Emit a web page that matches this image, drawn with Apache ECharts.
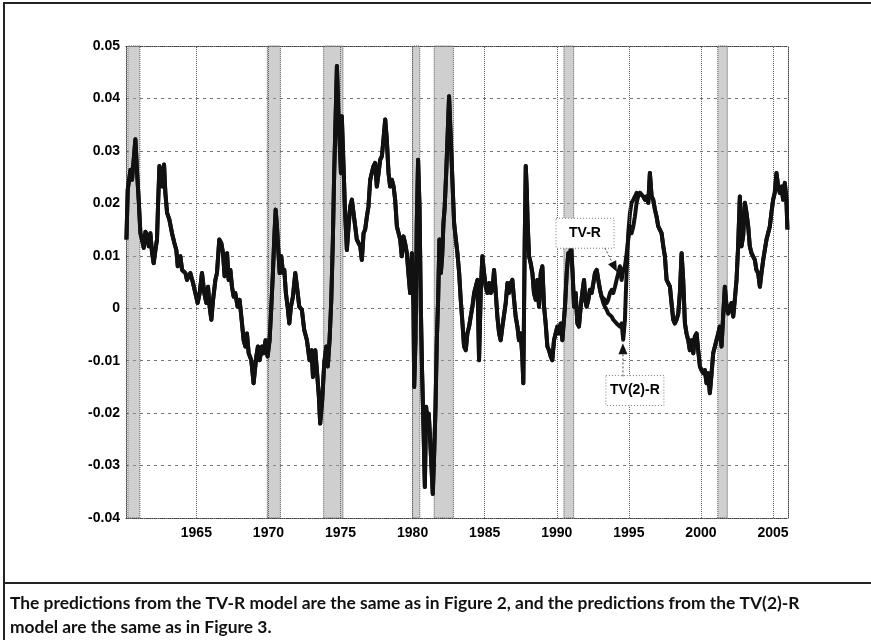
<!DOCTYPE html>
<html>
<head>
<meta charset="utf-8">
<script src="https://cdn.jsdelivr.net/npm/echarts@6/dist/echarts.min.js"></script>
<style>
  html, body { margin: 0; padding: 0; background: #fff; }
  #chart { width: 871px; height: 640px; }
</style>
</head>
<body>
<div id="chart"></div>
<script>
// Predicted values, [decimal year, value]; both models share the path except 1993-1995
const path1960s = [
  [1960.15,0.0131],[1960.24,0.0226],[1960.43,0.0264],[1960.54,0.0245],[1960.77,0.0322],[1960.89,0.0258],
  [1961.00,0.0207],[1961.12,0.0143],[1961.23,0.0131],[1961.35,0.0115],[1961.47,0.0146],[1961.58,0.0137],
  [1961.70,0.0118],[1961.81,0.0143],[1961.93,0.0105],[1962.04,0.0086],[1962.16,0.0111],[1962.27,0.0131],
  [1962.34,0.0194],[1962.44,0.0271],[1962.55,0.0274],[1962.64,0.0232],[1962.76,0.0274],[1962.85,0.0220],
  [1962.97,0.0182],[1963.13,0.0169],[1963.31,0.0143],[1963.48,0.0124],[1963.61,0.0111],[1963.71,0.0080],
  [1963.89,0.0099],[1964.01,0.0073],[1964.24,0.0067],[1964.35,0.0054],[1964.58,0.0067],[1964.77,0.0048],
  [1964.93,0.0029],[1965.09,0.0010],[1965.23,0.0029],[1965.39,0.0067],[1965.55,0.0029],[1965.69,0.0010],
  [1965.81,0.0041],[1965.92,0.0003],[1966.04,-0.0022],[1966.16,0.0016],[1966.32,0.0054],[1966.43,0.0067],
  [1966.59,0.0131],[1966.73,0.0124],[1966.85,0.0105],[1966.96,0.0061],[1967.13,0.0105],[1967.24,0.0054],
  [1967.36,0.0073],[1967.47,0.0041],[1967.59,0.0022],[1967.70,0.0029],[1967.86,0.0003],[1968.00,0.0016],
  [1968.12,-0.0016],[1968.28,-0.0061],[1968.40,-0.0073],[1968.51,-0.0048],[1968.63,-0.0086],[1968.81,-0.0099],
  [1968.97,-0.0143],[1969.16,-0.0092],[1969.27,-0.0073],[1969.39,-0.0099],[1969.55,-0.0073],[1969.67,-0.0086],
  [1969.80,-0.0061],[1969.94,-0.0092]
];
const path1970s = [
  [1970.08,-0.0061],[1970.20,0.0003],[1970.31,0.0067],[1970.41,0.0137],[1970.50,0.0188],[1970.59,0.0156],
  [1970.71,0.0099],[1970.78,0.0067],[1970.89,0.0099],[1971.01,0.0067],[1971.10,0.0073],[1971.21,0.0029],
  [1971.33,0.0003],[1971.45,-0.0029],[1971.56,0.0003],[1971.70,0.0022],[1971.86,0.0067],[1971.98,0.0041],
  [1972.14,0.0003],[1972.32,-0.0003],[1972.48,-0.0041],[1972.67,-0.0061],[1972.85,-0.0099],[1972.99,-0.0080],
  [1973.09,-0.0131],[1973.25,-0.0080],[1973.36,-0.0118],[1973.50,-0.0169],[1973.59,-0.0220],[1973.73,-0.0175],
  [1973.87,-0.0105],[1974.01,-0.0073],[1974.12,-0.0111],[1974.24,-0.0061],[1974.36,0.0016],[1974.47,0.0131],
  [1974.56,0.0258],[1974.68,0.0385],[1974.75,0.0462],[1974.86,0.0366],[1974.93,0.0322],[1975.03,0.0258],
  [1975.09,0.0366],[1975.21,0.0271],[1975.30,0.0194],[1975.44,0.0111],[1975.56,0.0156],[1975.67,0.0194],
  [1975.79,0.0207],[1975.90,0.0182],[1976.02,0.0156],[1976.13,0.0131],[1976.25,0.0131],[1976.37,0.0118],
  [1976.48,0.0092],[1976.60,0.0143],[1976.71,0.0150],[1976.83,0.0175],[1976.94,0.0194],[1977.06,0.0245],
  [1977.17,0.0258],[1977.29,0.0271],[1977.40,0.0277],[1977.52,0.0232],[1977.64,0.0258],[1977.75,0.0283],
  [1977.87,0.0290],[1977.98,0.0322],[1978.10,0.0360],[1978.21,0.0322],[1978.33,0.0258],[1978.44,0.0232],
  [1978.56,0.0245],[1978.68,0.0232],[1978.79,0.0207],[1978.91,0.0156],[1979.02,0.0156],[1979.14,0.0131],
  [1979.25,0.0099],[1979.37,0.0137],[1979.48,0.0124],[1979.60,0.0105],[1979.71,0.0067],[1979.83,0.0029],
  [1979.95,0.0105]
];
const path1980s = [
  [1980.06,0.0003],[1980.11,-0.0150],[1980.20,-0.0061],[1980.29,0.0162],[1980.38,0.0283],[1980.48,0.0194],
  [1980.57,0.0003],[1980.66,-0.0124],[1980.75,-0.0220],[1980.85,-0.0341],[1980.94,-0.0188],[1981.03,-0.0220],
  [1981.12,-0.0201],[1981.22,-0.0252],[1981.31,-0.0303],[1981.40,-0.0354],[1981.49,-0.0283],[1981.59,-0.0188],
  [1981.68,-0.0061],[1981.77,0.0016],[1981.86,0.0131],[1981.96,0.0067],[1982.05,0.0099],[1982.14,0.0162],
  [1982.23,0.0194],[1982.33,0.0258],[1982.42,0.0322],[1982.53,0.0404],[1982.65,0.0322],[1982.76,0.0245],
  [1982.88,0.0162],[1983.00,0.0131],[1983.11,0.0105],[1983.23,0.0067],[1983.34,0.0016],[1983.46,-0.0029],
  [1983.57,-0.0073],[1983.69,-0.0080],[1983.80,-0.0048],[1983.92,-0.0035],[1984.03,-0.0016],[1984.15,0.0003],
  [1984.27,0.0029],[1984.38,0.0041],[1984.50,0.0054],[1984.61,-0.0099],[1984.73,0.0035],[1984.84,0.0099],
  [1984.96,0.0067],[1985.07,0.0041],[1985.19,0.0029],[1985.31,0.0048],[1985.42,0.0029],[1985.54,0.0035],
  [1985.65,0.0073],[1985.77,0.0029],[1985.88,-0.0016],[1986.00,-0.0048],[1986.11,-0.0061],[1986.23,-0.0035],
  [1986.34,-0.0035],[1986.46,0.0010],[1986.58,0.0048],[1986.69,0.0029],[1986.81,0.0048],[1986.92,0.0054],
  [1987.04,0.0016],[1987.15,-0.0016],[1987.27,-0.0035],[1987.38,-0.0061],[1987.50,-0.0048],[1987.61,-0.0092],
  [1987.68,-0.0143],[1987.78,0.0131],[1987.85,0.0271],[1987.92,0.0226],[1987.98,0.0162],[1988.08,0.0099],
  [1988.19,0.0086],[1988.31,0.0067],[1988.42,0.0029],[1988.54,0.0016],[1988.65,0.0054],[1988.77,0.0003],
  [1988.89,0.0067],[1989.00,0.0080],[1989.12,0.0003],[1989.23,-0.0029],[1989.35,-0.0073],[1989.46,-0.0080],
  [1989.58,-0.0092],[1989.69,-0.0099],[1989.81,-0.0061],[1989.93,-0.0061]
];
const path1990to1993 = [
  [1990.04,-0.0035],[1990.16,-0.0048],[1990.27,-0.0029],[1990.39,-0.0061],[1990.50,-0.0061],[1990.57,0.0003],
  [1990.69,0.0067],[1990.80,0.0105],[1990.92,0.0099],[1990.99,0.0118],[1991.10,0.0067],[1991.20,0.0003],
  [1991.31,0.0029],[1991.43,-0.0029],[1991.54,-0.0035],[1991.66,0.0003],[1991.77,0.0029],[1991.89,0.0054],
  [1991.98,0.0016],[1992.07,0.0003],[1992.19,0.0016],[1992.30,0.0035],[1992.42,0.0029],[1992.54,0.0048],
  [1992.65,0.0067],[1992.77,0.0073],[1992.88,0.0054],[1993.00,0.0035],[1993.11,0.0022]
];
// 1993-1995: the two models diverge
const splitTVR = [
  [1993.23,0.0022],[1993.34,0.0016],[1993.46,0.0010],[1993.57,0.0016],[1993.69,0.0029],[1993.81,0.0035],
  [1993.92,0.0029],[1994.04,0.0041],[1994.15,0.0054],[1994.27,0.0067],[1994.38,0.0080],[1994.50,0.0054],
  [1994.61,0.0073],[1994.73,0.0080],[1994.85,0.0105],[1994.96,0.0131],[1995.08,0.0156],[1995.19,0.0143],
  [1995.31,0.0156],[1995.42,0.0175],[1995.54,0.0201],[1995.65,0.0214],[1995.77,0.0220]
];
const splitTV2R = [
  [1993.23,0.0010],[1993.34,0.0003],[1993.46,-0.0003],[1993.57,-0.0010],[1993.69,-0.0010],[1993.81,-0.0016],
  [1993.92,-0.0022],[1994.04,-0.0022],[1994.15,-0.0029],[1994.27,-0.0029],[1994.38,-0.0035],[1994.50,-0.0029],
  [1994.61,-0.0060],[1994.73,-0.0022],[1994.80,0.0035],[1994.89,0.0099],[1994.96,0.0143],[1995.08,0.0182],
  [1995.19,0.0201],[1995.31,0.0207],[1995.42,0.0213],[1995.54,0.0220],[1995.65,0.0213],[1995.77,0.0220]
];
const path1996to2006 = [
  [1995.89,0.0220],[1996.00,0.0213],[1996.12,0.0207],[1996.23,0.0213],[1996.35,0.0201],[1996.46,0.0258],
  [1996.58,0.0213],[1996.69,0.0207],[1996.81,0.0188],[1996.92,0.0175],[1997.04,0.0156],[1997.16,0.0156],
  [1997.27,0.0143],[1997.39,0.0118],[1997.50,0.0099],[1997.62,0.0054],[1997.73,0.0048],[1997.85,0.0041],
  [1997.96,0.0010],[1998.08,-0.0022],[1998.19,-0.0029],[1998.31,-0.0022],[1998.43,-0.0010],[1998.54,0.0029],
  [1998.66,0.0105],[1998.77,0.0054],[1998.89,-0.0029],[1999.00,-0.0048],[1999.12,-0.0061],[1999.23,-0.0080],
  [1999.35,-0.0061],[1999.47,-0.0086],[1999.58,-0.0054],[1999.70,-0.0048],[1999.81,-0.0080],[1999.93,-0.0111],
  [2000.04,-0.0118],[2000.16,-0.0124],[2000.27,-0.0118],[2000.39,-0.0143],[2000.50,-0.0124],[2000.62,-0.0162],
  [2000.74,-0.0124],[2000.85,-0.0086],[2000.97,-0.0073],[2001.08,-0.0061],[2001.20,-0.0048],[2001.31,-0.0035],
  [2001.43,-0.0073],[2001.54,-0.0016],[2001.66,0.0041],[2001.78,0.0003],[2001.89,-0.0010],[2002.01,0.0003],
  [2002.12,0.0010],[2002.24,-0.0016],[2002.35,0.0016],[2002.47,0.0054],[2002.58,0.0118],[2002.70,0.0213],
  [2002.81,0.0118],[2002.93,0.0138],[2003.05,0.0201],[2003.16,0.0182],[2003.28,0.0156],[2003.39,0.0118],
  [2003.51,0.0105],[2003.62,0.0099],[2003.74,0.0092],[2003.85,0.0073],[2003.97,0.0067],[2004.09,0.0041],
  [2004.20,0.0067],[2004.32,0.0092],[2004.43,0.0111],[2004.55,0.0131],[2004.66,0.0143],[2004.78,0.0156],
  [2004.89,0.0182],[2005.01,0.0207],[2005.12,0.0220],[2005.24,0.0258],[2005.36,0.0232],[2005.47,0.0220],
  [2005.59,0.0232],[2005.70,0.0207],[2005.82,0.0239],[2005.93,0.0207],[2006.00,0.0150]
];

// NBER recession periods (shaded)
const recessions = [
  [1960.25,1961.08],[1969.92,1970.83],[1973.83,1975.17],[1980.00,1980.50],
  [1981.50,1982.83],[1990.50,1991.17],[2001.17,2001.83]
];
const yearTicks = [1965,1970,1975,1980,1985,1990,1995,2000,2005];

const seriesTVR = [...path1960s, ...path1970s, ...path1980s, ...path1990to1993, ...splitTVR, ...path1996to2006];
const seriesTV2R = [...path1960s, ...path1970s, ...path1980s, ...path1990to1993, ...splitTV2R, ...path1996to2006];

const captionLines = [
  'The predictions from the TV-R model are the same as in Figure 2, and the predictions from the TV(2)-R',
  'model are the same as in Figure 3.'
];

const axisFont = { fontFamily: 'Liberation Sans', fontWeight: 'bold', fontSize: 14, color: '#000' };
const xMin = 1960.12, xMax = 2006.04;

const chart = echarts.init(document.getElementById('chart'), null, { renderer: 'canvas' });

chart.setOption({
  animation: false,
  backgroundColor: '#fff',
  grid: { left: 126, top: 46, right: 83, bottom: 122, containLabel: false },
  xAxis: [{
    type: 'value', min: xMin, max: xMax, position: 'bottom',
    axisLine: { show: true, onZero: false, lineStyle: { color: '#444', type: 'dotted', width: 1 } },
    axisTick: { show: false },
    splitLine: { show: false },
    axisLabel: Object.assign({ customValues: yearTicks, margin: 8, formatter: v => String(Math.round(v)) }, axisFont)
  }, {
    type: 'value', min: xMin, max: xMax, position: 'top',
    axisLine: { show: true, onZero: false, lineStyle: { color: '#444', type: 'dotted', width: 1 } },
    axisTick: { show: false }, axisLabel: { show: false }, splitLine: { show: false }
  }],
  yAxis: [{
    type: 'value', min: -0.04, max: 0.05, interval: 0.01, position: 'left',
    axisLine: { show: true, onZero: false, lineStyle: { color: '#444', type: 'dotted', width: 1 } },
    axisTick: { show: false },
    splitLine: { show: true, lineStyle: { color: '#777', type: [3, 4], width: 1 } },
    axisLabel: Object.assign({ margin: 6, formatter: v => Math.abs(v) < 1e-9 ? '0' : v.toFixed(2) }, axisFont)
  }, {
    type: 'value', min: -0.04, max: 0.05, interval: 0.01, position: 'right',
    axisLine: { show: true, onZero: false, lineStyle: { color: '#444', type: 'dotted', width: 1 } },
    axisTick: { show: false }, axisLabel: { show: false }, splitLine: { show: false }
  }],
  series: [
    {
      // recession shading and vertical year grid
      type: 'line', data: [], z: 1, silent: true,
      markArea: {
        silent: true,
        itemStyle: { color: 'rgba(160,160,160,0.5)', borderColor: '#555', borderType: 'dotted', borderWidth: 1 },
        data: recessions.map(r => [{ xAxis: r[0] }, { xAxis: r[1] }])
      },
      markLine: {
        silent: true, symbol: 'none', label: { show: false },
        lineStyle: { color: '#666', type: 'dotted', width: 1 },
        data: yearTicks.map(y => ({ xAxis: y }))
      }
    },
    {
      name: 'TV(2)-R', type: 'line', data: seriesTV2R, showSymbol: false, z: 4,
      lineStyle: { color: '#111', width: 4, join: 'round' }
    },
    {
      name: 'TV-R', type: 'line', data: seriesTVR, showSymbol: false, z: 5,
      lineStyle: { color: '#111', width: 4, join: 'round' }
    }
  ]
});

// Annotation labels with arrows pointing at each model's path
const annotations = [
  { text: 'TV-R', center: [1991.96, 0.0143], width: 58, tail: [1993.34, 0.0115], head: [1994.18, 0.0069] },
  { text: 'TV(2)-R', center: [1995.42, -0.0157], width: 58, tail: [1994.59, -0.0130], head: [1994.59, -0.0067] }
];

function toPx(p) { return chart.convertToPixel({ xAxisIndex: 0, yAxisIndex: 0 }, p); }

const graphics = [];
annotations.forEach(a => {
  const c = toPx(a.center), t = toPx(a.tail), h = toPx(a.head);
  graphics.push({
    type: 'rect', z: 100,
    shape: { x: c[0] - a.width / 2, y: c[1] - 15, width: a.width, height: 30 },
    style: { fill: '#fff', stroke: '#777', lineWidth: 1, lineDash: [1, 2] }
  });
  graphics.push({
    type: 'text', z: 101,
    style: { text: a.text, x: c[0], y: c[1], align: 'center', verticalAlign: 'middle',
             font: 'bold 14px "Liberation Sans"', fill: '#000' }
  });
  const dx = h[0] - t[0], dy = h[1] - t[1], len = Math.hypot(dx, dy);
  const ux = dx / len, uy = dy / len, L = 11, W = 4.5;
  const bx = h[0] - ux * L, by = h[1] - uy * L;
  graphics.push({
    type: 'line', z: 100,
    shape: { x1: t[0], y1: t[1], x2: bx, y2: by },
    style: { stroke: '#444', lineWidth: 1, lineDash: [2, 2] }
  });
  graphics.push({
    type: 'polygon', z: 101,
    shape: { points: [[h[0], h[1]], [bx - uy * W, by + ux * W], [bx + uy * W, by - ux * W]] },
    style: { fill: '#111' }
  });
});

// Figure frame and caption
graphics.push({ type: 'line', shape: { x1: 4, y1: 2, x2: 4, y2: 640 }, style: { stroke: '#222', lineWidth: 2 } });
graphics.push({ type: 'line', shape: { x1: 4, y1: 3, x2: 871, y2: 3 }, style: { stroke: '#222', lineWidth: 2 } });
graphics.push({ type: 'line', shape: { x1: 4, y1: 583, x2: 871, y2: 583 }, style: { stroke: '#222', lineWidth: 2 } });
captionLines.forEach((line, i) => {
  graphics.push({
    type: 'text',
    style: { text: line, x: 10, y: 603 + i * 24, verticalAlign: 'middle',
             font: 'bold 17.4px Lato', fill: '#111' }
  });
});

chart.setOption({ graphic: graphics });
</script>
</body>
</html>
